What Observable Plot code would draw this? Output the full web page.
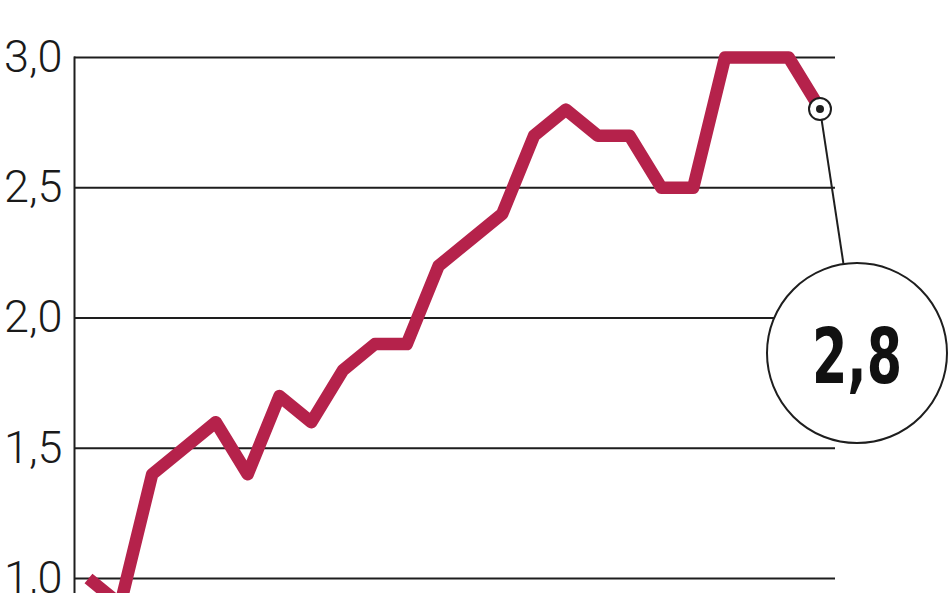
<!DOCTYPE html>
<html>
<head>
<meta charset="utf-8">
<script src="https://cdn.jsdelivr.net/npm/d3@7"></script>
<script src="https://cdn.jsdelivr.net/npm/@observablehq/plot@0.6"></script>
<style>
  html, body { margin: 0; padding: 0; background: #fff; overflow: hidden; }
  #chart svg { display: block; }
</style>
</head>
<body>
<div id="chart"></div>
<script>
// Data
const periods = d3.range(24); // 24 consecutive periods
const values = [1.0, 0.9, 1.4, 1.5, 1.6, 1.4, 1.7, 1.6, 1.8, 1.9, 1.9, 2.2,
                2.3, 2.4, 2.7, 2.8, 2.7, 2.7, 2.5, 2.5, 3.0, 3.0, 3.0, 2.8];
const yTicks = [1.0, 1.5, 2.0, 2.5, 3.0];
const calloutLabel = "2,8";

const data = periods.map((p, i) => ({ p, v: values[i] }));
const last = data[data.length - 1];
const fmt = d => d.toFixed(1).replace(".", ",");

const lineColor = "#b5224b";
const ink = "#1e1e1e";

// callout bubble (annotation) relative to the last point, in pixels
const bubble = { dx: 37, dy: 244, r: 90 };

function callout(index, scales, values, dimensions) {
  const x0 = scales.x(last.p), y0 = scales.y(last.v);
  const cx = x0 + bubble.dx, cy = y0 + bubble.dy;
  const g = d3.create("svg:g");
  // connector from marker to bubble top
  const ang = Math.atan2(cx - x0, cy - y0);
  g.append("line")
    .attr("x1", x0).attr("y1", y0)
    .attr("x2", cx - bubble.r * Math.sin(ang)).attr("y2", cy - bubble.r * Math.cos(ang))
    .attr("stroke", ink).attr("stroke-width", 2);
  g.append("circle")
    .attr("cx", cx).attr("cy", cy).attr("r", bubble.r)
    .attr("fill", "#fff").attr("stroke", ink).attr("stroke-width", 2);
  g.append("text")
    .attr("x", cx).attr("y", cy + 3)
    .attr("text-anchor", "middle").attr("dominant-baseline", "central")
    .attr("font-family", "'DejaVu Sans Condensed', 'DejaVu Sans', sans-serif")
    .attr("font-stretch", "condensed")
    .attr("font-weight", "bold").attr("font-size", 76)
    .attr("textLength", 90).attr("lengthAdjust", "spacingAndGlyphs")
    .attr("fill", "#111")
    .text(calloutLabel);
  // marker on last point
  g.append("circle")
    .attr("cx", x0).attr("cy", y0).attr("r", 11)
    .attr("fill", "#fff").attr("stroke", ink).attr("stroke-width", 2);
  g.append("circle")
    .attr("cx", x0).attr("cy", y0).attr("r", 4)
    .attr("fill", ink);
  return g.node();
}

const plot = Plot.plot({
  width: 948,
  height: 593,
  marginLeft: 74,
  marginRight: 113,
  marginTop: 57,
  marginBottom: 0,
  insetLeft: 14,
  insetRight: 15,
  style: { background: "#fff", overflow: "visible" },
  x: { domain: [periods[0], periods[periods.length - 1]], axis: null },
  y: { domain: [1 - 15 / 260, 3.0], ticks: yTicks, tickFormat: fmt },
  marks: [
    Plot.ruleY(yTicks, { stroke: ink, strokeWidth: 2 }),
    Plot.frame({ anchor: "left", stroke: ink, strokeWidth: 2 }),
    Plot.axisY(yTicks, {
      tickSize: 0, tickPadding: 12, tickFormat: fmt,
      fontSize: 45, fontWeight: 300, fill: "#1a1a1a",
      fontFamily: "Roboto, 'DejaVu Sans Condensed', sans-serif",
      label: null
    }),
    Plot.line(data, {
      x: "p", y: "v", stroke: lineColor, strokeWidth: 12.5,
      strokeLinejoin: "round", strokeLinecap: "butt"
    }),
    callout
  ]
});

document.getElementById("chart").appendChild(plot);
</script>
</body>
</html>
